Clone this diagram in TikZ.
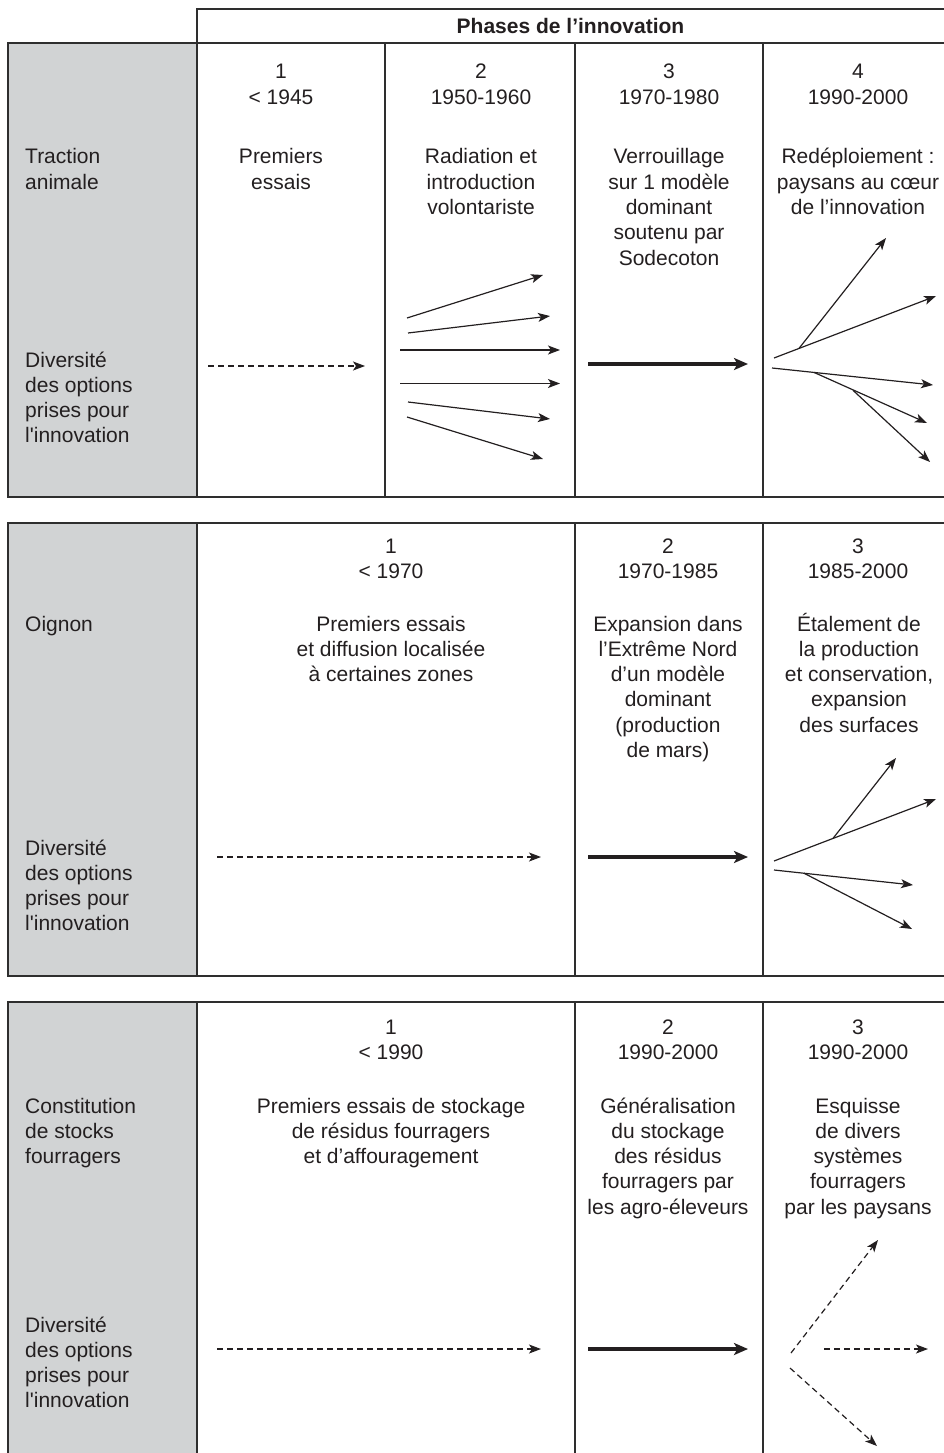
\documentclass[tikz,border=0pt]{standalone}
\usepackage{fontspec}
\setmainfont{Liberation Sans}[Ligatures=TeXOff]
\usetikzlibrary{arrows.meta}
\definecolor{ink}{HTML}{231F20}
\definecolor{rule}{HTML}{2E2E2E}
\definecolor{panel}{HTML}{D1D3D4}
% multi-line text blocks whose baseline is the first line
\newcommand{\cblock}[1]{\begin{tabular}[t]{@{}c@{}}#1\end{tabular}}
\newcommand{\lblock}[1]{\begin{tabular}[t]{@{}l@{}}#1\end{tabular}}
\begin{document}
\begin{tikzpicture}[x=1pt,y=-1pt,
  txt/.style={inner sep=0pt, anchor=base, text=ink, font=\fontsize{21}{25.3}\selectfont},
  lbl/.style={txt, anchor=base west},
  frame/.style={draw=rule, line width=1.4pt},
  thin arrow/.style={draw=ink, line width=1.2pt, -{Stealth[length=12pt,width=9pt,inset=3pt]}},
  dash arrow/.style={thin arrow, dash pattern=on 6pt off 4pt},
  bold arrow/.style={draw=ink, line width=4.2pt, -{Stealth[length=14pt,width=12pt,inset=3.5pt]}}]
\useasboundingbox (0,0) rectangle (944,1453);
\clip (0,0) rectangle (944,1453);

% ---------- grey label column ----------
\fill[panel] (8,43) rectangle (197,497);
\fill[panel] (8,523) rectangle (197,976);
\fill[panel] (8,1002) rectangle (197,1460);

% ---------- header ----------
\draw[frame] (197,43) -- (197,9) -- (950,9);
\node[txt, font=\fontsize{21}{25.3}\selectfont\bfseries] (head) at (570.5,34) {Phases de l’innovation};

% ---------- block 1 frame ----------
\draw[frame] (950,43) -- (8,43) -- (8,497) -- (950,497);
\foreach \cx in {197,385,575,763} \draw[frame] (\cx,43) -- (\cx,497);

% ---------- block 2 frame ----------
\draw[frame] (950,523) -- (8,523) -- (8,976) -- (950,976);
\foreach \cx in {197,575,763} \draw[frame] (\cx,523) -- (\cx,976);

% ---------- block 3 frame ----------
\draw[frame] (950,1002) -- (8,1002) -- (8,1460);
\foreach \cx in {197,575,763} \draw[frame] (\cx,1002) -- (\cx,1460);

% ---------- block 1 texts ----------
\node[lbl] (t1) at (25,164) {\lblock{Traction\\animale}};
\node[lbl] (d1) at (25,367) {\lblock{Diversité\\des options\\prises pour\\l'innovation}};
\node[txt] (p11) at (281,79) {\cblock{1\\< 1945}};
\node[txt] (p12) at (481,79) {\cblock{2\\1950-1960}};
\node[txt] (p13) at (669,79) {\cblock{3\\1970-1980}};
\node[txt] (p14) at (858,79) {\cblock{4\\1990-2000}};
\node[txt] (q11) at (281,164) {\cblock{Premiers\\essais}};
\node[txt] (q12) at (481,164) {\cblock{Radiation et\\introduction\\volontariste}};
\node[txt] (q13) at (669,164) {\cblock{Verrouillage\\sur 1 modèle\\dominant\\soutenu par\\Sodecoton}};
\node[txt] (q14) at (858,164) {\cblock{Redéploiement :\\paysans au cœur\\de l’innovation}};

% ---------- block 1 arrows ----------
\coordinate (a1s) at (208,366);  \coordinate (a1e) at (365,366);
\draw[dash arrow] (a1s) -- (a1e);

\coordinate (r1s) at (407,318); \coordinate (r1e) at (543,275);
\coordinate (r2s) at (408,333); \coordinate (r2e) at (550,316);
\coordinate (r3s) at (400,350); \coordinate (r3e) at (560,350);
\coordinate (r4s) at (400,383.5); \coordinate (r4e) at (560,383.5);
\coordinate (r5s) at (408,402); \coordinate (r5e) at (550,419);
\coordinate (r6s) at (407,417); \coordinate (r6e) at (543,459);
\foreach \k in {1,...,6} \draw[thin arrow] (r\k s) -- (r\k e);

\coordinate (v1s) at (588,364); \coordinate (v1e) at (748,364);
\draw[bold arrow] (v1s) -- (v1e);

\coordinate (f1a) at (774,358); \coordinate (f1b) at (799,348.4);
\coordinate (f1c) at (936,296); \coordinate (f1d) at (886,238);
\coordinate (f1g) at (772,368); \coordinate (f1h) at (814,372.4);
\coordinate (f1i) at (933,385); \coordinate (f1j) at (853,390.3);
\coordinate (f1k) at (927,423); \coordinate (f1l) at (930,462);
\draw[thin arrow] (f1a) -- (f1c);
\draw[thin arrow] (f1b) -- (f1d);
\draw[thin arrow] (f1g) -- (f1i);
\draw[thin arrow] (f1h) -- (f1k);
\draw[thin arrow] (f1j) -- (f1l);

% ---------- block 2 texts ----------
\node[lbl] (t2) at (25,631) {Oignon};
\node[lbl] (d2) at (25,855) {\lblock{Diversité\\des options\\prises pour\\l'innovation}};
\node[txt] (p21) at (391,553) {\cblock{1\\< 1970}};
\node[txt] (p22) at (668,553) {\cblock{2\\1970-1985}};
\node[txt] (p23) at (858,553) {\cblock{3\\1985-2000}};
\node[txt] (q21) at (391,631) {\cblock{Premiers essais\\et diffusion localisée\\à certaines zones}};
\node[txt] (q22) at (668,631) {\cblock{Expansion dans\\l’Extrême Nord\\d’un modèle\\dominant\\(production\\de mars)}};
\node[txt] (q23) at (859,631) {\cblock{Étalement de\\la production\\et conservation,\\expansion\\des surfaces}};

% ---------- block 2 arrows ----------
\coordinate (a2s) at (217,857); \coordinate (a2e) at (541,857);
\draw[dash arrow] (a2s) -- (a2e);
\coordinate (v2s) at (588,857); \coordinate (v2e) at (748,857);
\draw[bold arrow] (v2s) -- (v2e);

\coordinate (f2a) at (774,861); \coordinate (f2b) at (833,838.4);
\coordinate (f2c) at (936,799); \coordinate (f2d) at (896,758);
\coordinate (f2g) at (774,870); \coordinate (f2h) at (804,873.2);
\coordinate (f2i) at (913,885); \coordinate (f2k) at (912,929);
\draw[thin arrow] (f2a) -- (f2c);
\draw[thin arrow] (f2b) -- (f2d);
\draw[thin arrow] (f2g) -- (f2i);
\draw[thin arrow] (f2h) -- (f2k);

% ---------- block 3 texts ----------
\node[lbl] (t3) at (25,1113) {\lblock{Constitution\\de stocks\\fourragers}};
\node[lbl] (d3) at (25,1332) {\lblock{Diversité\\des options\\prises pour\\l'innovation}};
\node[txt] (p31) at (391,1034) {\cblock{1\\< 1990}};
\node[txt] (p32) at (668,1034) {\cblock{2\\1990-2000}};
\node[txt] (p33) at (858,1034) {\cblock{3\\1990-2000}};
\node[txt] (q31) at (391,1113) {\cblock{Premiers essais de stockage\\de résidus fourragers\\et d’affouragement}};
\node[txt] (q32) at (668,1113) {\cblock{Généralisation\\du stockage\\des résidus\\fourragers par\\les agro-éleveurs}};
\node[txt] (q33) at (858,1113) {\cblock{Esquisse\\de divers\\systèmes\\fourragers\\par les paysans}};

% ---------- block 3 arrows ----------
\coordinate (a3s) at (217,1349); \coordinate (a3e) at (541,1349);
\draw[dash arrow] (a3s) -- (a3e);
\coordinate (v3s) at (588,1349); \coordinate (v3e) at (748,1349);
\draw[bold arrow] (v3s) -- (v3e);

\coordinate (f3a) at (791,1353); \coordinate (f3b) at (878,1240);
\coordinate (f3c) at (790,1368); \coordinate (f3d) at (877,1446);
\coordinate (f3e) at (824,1349); \coordinate (f3f) at (928,1349);
\draw[dash arrow] (f3a) -- (f3b);
\draw[dash arrow] (f3c) -- (f3d);
\draw[dash arrow] (f3e) -- (f3f);
\end{tikzpicture}
\end{document}
